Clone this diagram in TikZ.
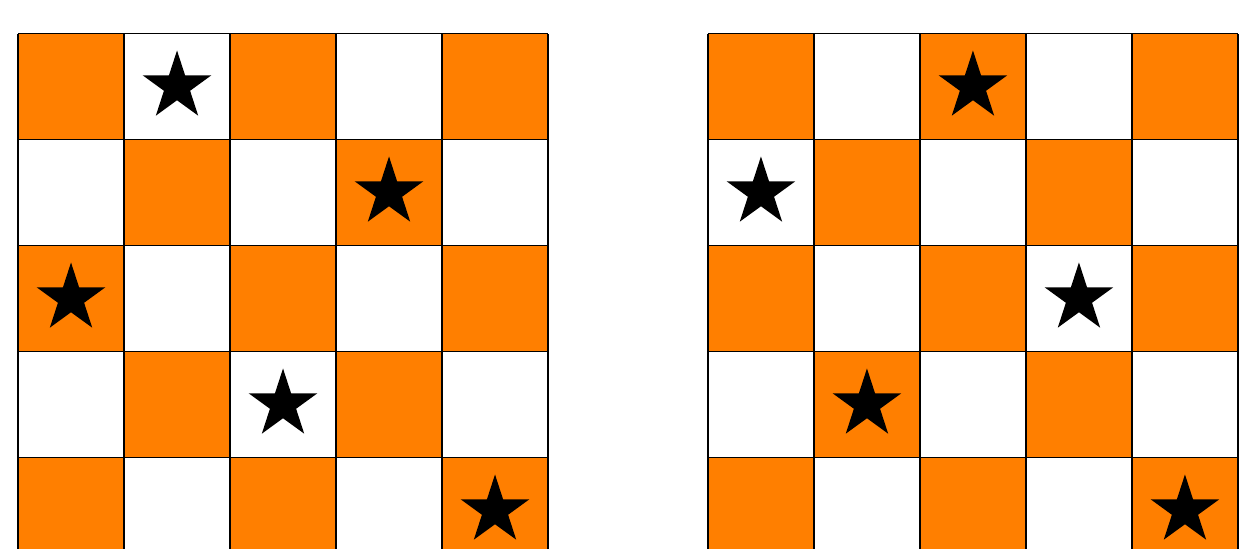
\documentclass[tikz,border=0pt]{standalone}
\usetikzlibrary{shapes.geometric}
\definecolor{boardorange}{RGB}{255,127,0}
\tikzset{
  queen/.style={star,star points=5,star point ratio=2.618,fill=black,inner sep=0pt,minimum size=0.68cm},
  gridline/.style={draw=black,line width=0.35pt}
}
\begin{document}
\begin{tikzpicture}[x=1.0cm,y=1.0cm]
  \useasboundingbox (-0.17,-4.863) rectangle (11.547,0.316);
  % left board
  \foreach \r in {0,...,4}
    \foreach \c in {0,...,4} {
      \pgfmathtruncatemacro{\s}{\r+\c}
      \ifodd\s\else\fill[boardorange] (\c,-\r) rectangle (\c+1,-\r-1);\fi
    }
  \draw[gridline] (0,-5) grid (5,0);
  \foreach \r/\c in {0/1,1/3,2/0,3/2,4/4}
    \node[queen] (qL\r) at (\c+0.5,-\r-0.5) {};
  % right board
  \begin{scope}[xshift=6.509cm]
    \foreach \r in {0,...,4}
      \foreach \c in {0,...,4} {
        \pgfmathtruncatemacro{\s}{\r+\c}
        \ifodd\s\else\fill[boardorange] (\c,-\r) rectangle (\c+1,-\r-1);\fi
      }
    \draw[gridline] (0,-5) grid (5,0);
    \foreach \r/\c in {0/2,1/0,2/3,3/1,4/4}
      \node[queen] (qR\r) at (\c+0.5,-\r-0.5) {};
  \end{scope}
\end{tikzpicture}
\end{document}
